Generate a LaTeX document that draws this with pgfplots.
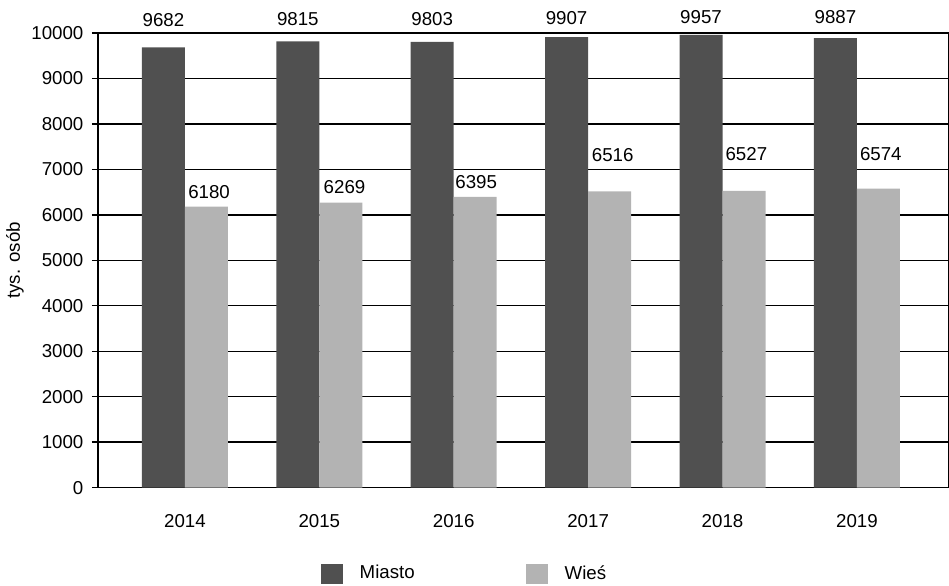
\documentclass[border=0pt]{standalone}
\usepackage{fontspec}
\setmainfont{Liberation Sans}
\usepackage{pgfplots}
\pgfplotsset{compat=1.18}
\definecolor{miasto}{HTML}{505050}
\definecolor{wies}{HTML}{B3B3B3}

\begin{document}
\fontsize{9.35}{11}\selectfont
\begin{tikzpicture}
\begin{axis}[
    width=425.5pt, height=227.5pt, scale only axis,
    xmin=-0.647, xmax=5.68,
    ymin=0, ymax=10000, ytick distance=1000,
    xtick={0,1,2,3,4,5},
    xticklabels={2014,2015,2016,2017,2018,2019},
    xtick style={draw=none},
    ytick pos=left,
    tick align=outside,
    major tick length=3pt,
    ytick style={black, line width=0.7pt},
    ymajorgrids=true,
    grid style={black, line width=0.7pt},
    axis line style={black, line width=0.7pt},
    scaled y ticks=false,
    /pgf/number format/1000 sep={},
    /pgf/number format/assume math mode=true,
    tick label style={font=\fontsize{9.35}{11}\selectfont},
    xticklabel style={yshift=-7pt},
    yticklabel style={xshift=-1pt},
    ylabel={tys. osób},
    ylabel style={at={(axis description cs:-0.0975,0.5)}, anchor=center},
    legend columns=2,
    legend style={draw=none, fill=none, inner sep=0pt, outer sep=0pt,
        at={(axis description cs:0.262,-0.1890)}, anchor=west,
        nodes={inner sep=0pt},
        /tikz/every odd column/.append style={column sep=8.5pt},
        /tikz/every even column/.append style={column sep=55.5pt}},
    clip=false,
]
\addplot[ybar, bar width=0.32, bar shift=-0.16, fill=miasto, draw=none,
    legend image code/.code={\fill[miasto] (0pt,-5pt) rectangle (11pt,5pt);}]
    coordinates {(0,9682) (1,9815) (2,9803) (3,9907) (4,9957) (5,9887)};
\addplot[ybar, bar width=0.32, bar shift=0.16, fill=wies, draw=none,
    legend image code/.code={\fill[wies] (0pt,-5pt) rectangle (11pt,5pt);}]
    coordinates {(0,6180) (1,6269) (2,6395) (3,6516) (4,6527) (5,6574)};
\legend{Miasto, Wieś}

% value labels
\node at (axis cs:-0.16,10290) {9682};
\node at (axis cs:0.84,10300) {9815};
\node at (axis cs:1.84,10300) {9803};
\node at (axis cs:2.84,10330) {9907};
\node at (axis cs:3.84,10340) {9957};
\node at (axis cs:4.84,10350) {9887};
\node[anchor=west, inner sep=0pt] at (axis cs:0.022,6505) {6180};
\node[anchor=west, inner sep=0pt] at (axis cs:1.03,6615) {6269};
\node[anchor=west, inner sep=0pt] at (axis cs:2.01,6725) {6395};
\node[anchor=west, inner sep=0pt] at (axis cs:3.025,7308) {6516};
\node[anchor=west, inner sep=0pt] at (axis cs:4.02,7330) {6527};
\node[anchor=west, inner sep=0pt] at (axis cs:5.02,7330) {6574};
\end{axis}
\path[use as bounding box] ([xshift=-49pt,yshift=-49pt]current axis.south west)
    rectangle ([yshift=16.5pt]current axis.north east);
\end{tikzpicture}
\end{document}
